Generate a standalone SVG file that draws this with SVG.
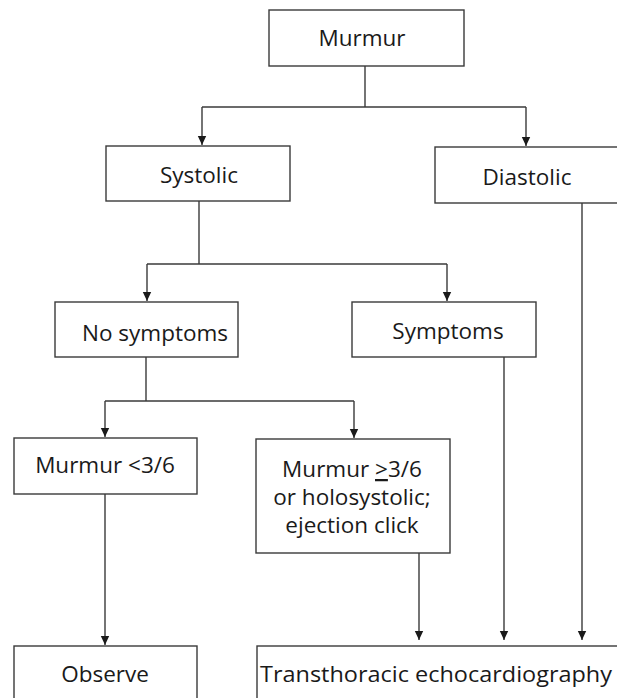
<svg xmlns="http://www.w3.org/2000/svg" width="617" height="698" viewBox="0 0 617 698">
<style>
.box{fill:#fff;stroke:#3a3a3a;stroke-width:1.4}
.ln{fill:none;stroke:#3a3a3a;stroke-width:1.4}
text{font-family:"Open Sans","Noto Sans",sans-serif;font-size:22.5px;fill:#1a1a1a;text-anchor:middle}
</style>
<defs>
<marker id="ah" markerWidth="10" markerHeight="10" refX="9" refY="5" orient="auto" markerUnits="userSpaceOnUse">
<path d="M0,0.8 L9,5 L0,9.2 Z" fill="#1a1a1a"/>
</marker>
</defs>
<rect width="617" height="698" fill="#fff"/>
<g id="connectors">
<path class="ln" d="M365,66 V107"/>
<path class="ln" d="M202,107 H526"/>
<path class="ln" d="M202,107 V145" marker-end="url(#ah)"/>
<path class="ln" d="M526,107 V146" marker-end="url(#ah)"/>
<path class="ln" d="M199,201 V264"/>
<path class="ln" d="M147,264 H447"/>
<path class="ln" d="M147,264 V301" marker-end="url(#ah)"/>
<path class="ln" d="M447,264 V301" marker-end="url(#ah)"/>
<path class="ln" d="M146,357 V401"/>
<path class="ln" d="M105,401 H354"/>
<path class="ln" d="M105,401 V437" marker-end="url(#ah)"/>
<path class="ln" d="M354,401 V438" marker-end="url(#ah)"/>
<path class="ln" d="M105,494 V645" marker-end="url(#ah)"/>
<path class="ln" d="M419,553 V640" marker-end="url(#ah)"/>
<path class="ln" d="M504,357 V640" marker-end="url(#ah)"/>
<path class="ln" d="M582,203 V640" marker-end="url(#ah)"/>
</g>
<g id="murmur"><rect class="box" x="269" y="10" width="195" height="56"/><text x="362" y="46">Murmur</text></g>
<g id="systolic"><rect class="box" x="106" y="146" width="184" height="55"/><text x="199" y="183">Systolic</text></g>
<g id="diastolic"><rect class="box" x="435" y="147" width="190" height="56"/><text x="527" y="185">Diastolic</text></g>
<g id="nosymptoms"><rect class="box" x="55" y="302" width="183" height="55"/><text x="155" y="341">No symptoms</text></g>
<g id="symptoms"><rect class="box" x="352" y="302" width="184" height="55"/><text x="448" y="339">Symptoms</text></g>
<g id="murmurlt"><rect class="box" x="14" y="438" width="183" height="56"/><text x="105" y="473">Murmur &lt;3/6</text></g>
<g id="murmurge"><rect class="box" x="256" y="439" width="194" height="114"/><text x="352" y="477">Murmur <tspan text-decoration="underline">&gt;</tspan>3/6</text><text x="352" y="505">or holosystolic;</text><text x="352" y="533">ejection click</text></g>
<g id="observe"><rect class="box" x="14" y="646" width="183" height="60"/><text x="105" y="682">Observe</text></g>
<g id="tte"><rect class="box" x="257" y="646" width="370" height="60"/><text x="260" y="682" style="text-anchor:start" textLength="352" lengthAdjust="spacingAndGlyphs">Transthoracic echocardiography</text></g>
</svg>
